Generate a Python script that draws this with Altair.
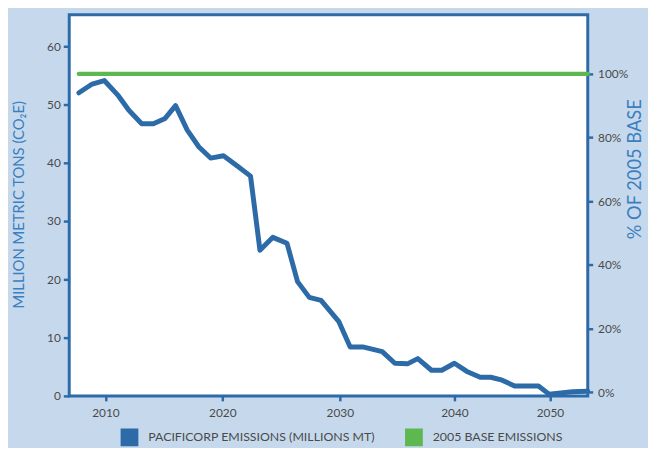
import altair as alt
import pandas as pd

BLUE = "#2c6ba8"
GREEN = "#5cb84f"
TITLE_BLUE = "#3a7fc1"
TEXT = "#4a4a4a"
BG = "#c6d9ec"

# PacifiCorp emissions (million metric tons CO2e), positions
years = [2007.8, 2008.9, 2009.9, 2011.1, 2012.0, 2013.1, 2014.1, 2015.1, 2016.0, 2017.0,
         2018.0, 2019.0, 2020.1, 2021.3, 2022.4, 2023.2, 2024.3, 2025.5, 2026.4, 2027.4,
         2028.4, 2029.9, 2030.9, 2032.0, 2033.7, 2034.8, 2035.9, 2036.8, 2038.0, 2038.9,
         2040.0, 2041.3, 2042.7, 2043.8, 2045.0, 2046.3, 2048.8, 2049.9, 2052.4, 2054.0]
emissions = [52.0, 53.5, 54.1, 51.5, 49.0, 46.7, 46.7, 47.6, 49.8, 45.6,
             42.7, 40.8, 41.2, 39.4, 37.7, 25.0, 27.2, 26.2, 19.6, 16.9,
             16.4, 12.8, 8.4, 8.4, 7.6, 5.6, 5.5, 6.4, 4.4, 4.4,
             5.6, 4.2, 3.2, 3.2, 2.7, 1.7, 1.7, 0.3, 0.7, 0.8]

# 2005 base emissions (100 %)
base_years = [2007.8, 2054.0]
base_pct = [100, 100]

series_names = ["PACIFICORP EMISSIONS (MILLIONS MT)", "2005 BASE EMISSIONS"]

x_domain = [2007, 2010, 2020, 2030, 2040, 2050, 2054]
x_range = [0, 36.7, 155, 274, 390, 486.7, 525]
x_ticks = [2010, 2020, 2030, 2040, 2050]
y_ticks = [0, 10, 20, 30, 40, 50, 60]
pct_ticks = [0, 20, 40, 60, 80, 100]

em_df = pd.DataFrame({"year": years, "value": emissions})
base_df = pd.DataFrame({"year": base_years, "pct": base_pct})
legend_df = pd.DataFrame({"year": [years[0], years[0]],
                          "value": [emissions[0], emissions[0]],
                          "series": series_names})

x_enc = alt.X(
    "year:Q",
    scale=alt.Scale(domain=x_domain, range=x_range, nice=False, zero=False),
    axis=alt.Axis(values=x_ticks, format="d", title=None, labelPadding=7, tickSize=5),
)

y_left = alt.Y(
    "value:Q",
    scale=alt.Scale(domain=[0, 65.4], nice=False, zero=False),
    axis=alt.Axis(
        values=y_ticks, title="MILLION METRIC TONS (CO₂E)", titleFontSize=15,
        titleX=-51, titleY=192, titleAngle=270, titleAlign="center",
        titleBaseline="middle", labelPadding=3, tickSize=6,
    ),
)

y_right = alt.Y(
    "pct:Q",
    scale=alt.Scale(domain=[-1.2, 118.6], nice=False, zero=False),
    axis=alt.Axis(
        orient="right", values=pct_ticks, labelExpr="datum.value + '%'",
        title="% OF 2005 BASE", titleFontSize=18.5, titleX=47, titleY=156,
        titleAngle=270, titleAlign="center", titleBaseline="middle",
        labelPadding=5, tickSize=5,
    ),
)

blue_line = alt.Chart(em_df).mark_line(
    color=BLUE, strokeWidth=5, strokeJoin="round", strokeCap="round"
).encode(x=x_enc, y=y_left)

legend_layer = alt.Chart(legend_df).mark_point(
    shape="square", filled=True, opacity=0
).encode(
    x=x_enc,
    y=y_left,
    color=alt.Color(
        "series:N",
        scale=alt.Scale(domain=series_names, range=[BLUE, GREEN]),
        legend=alt.Legend(
            orient="none", legendX=52, legendY=419, direction="horizontal",
            title=None, symbolType="square", symbolSize=324, symbolOpacity=1,
            symbolStrokeWidth=0, labelFont="Lato", labelFontSize=12.5,
            labelColor=TEXT, labelOffset=10, columnPadding=30, padding=0,
            labelLimit=400,
        ),
    ),
)

green_line = alt.Chart(base_df).mark_line(
    color=GREEN, strokeWidth=4.5, strokeCap="round"
).encode(x=x_enc, y=y_right)

left = alt.layer(blue_line, legend_layer)

chart = (
    alt.layer(left, green_line)
    .resolve_scale(y="independent")
    .properties(
        width=525,
        height=386,
        padding={"left": 62, "top": 4, "right": 61, "bottom": 50},
        autosize=alt.AutoSizeParams(type="none"),
        background=BG,
    )
    .configure_view(stroke=BLUE, strokeWidth=3, fill="white")
    .configure_axis(
        domain=False, grid=False, tickColor=BLUE, tickWidth=2.5,
        labelFont="Lato", labelFontSize=12, labelColor=TEXT,
        titleFont="Lato", titleColor=TITLE_BLUE, titleFontWeight="normal",
    )
)

chart.save("out.html", embed_options={"renderer": "svg", "actions": False})
